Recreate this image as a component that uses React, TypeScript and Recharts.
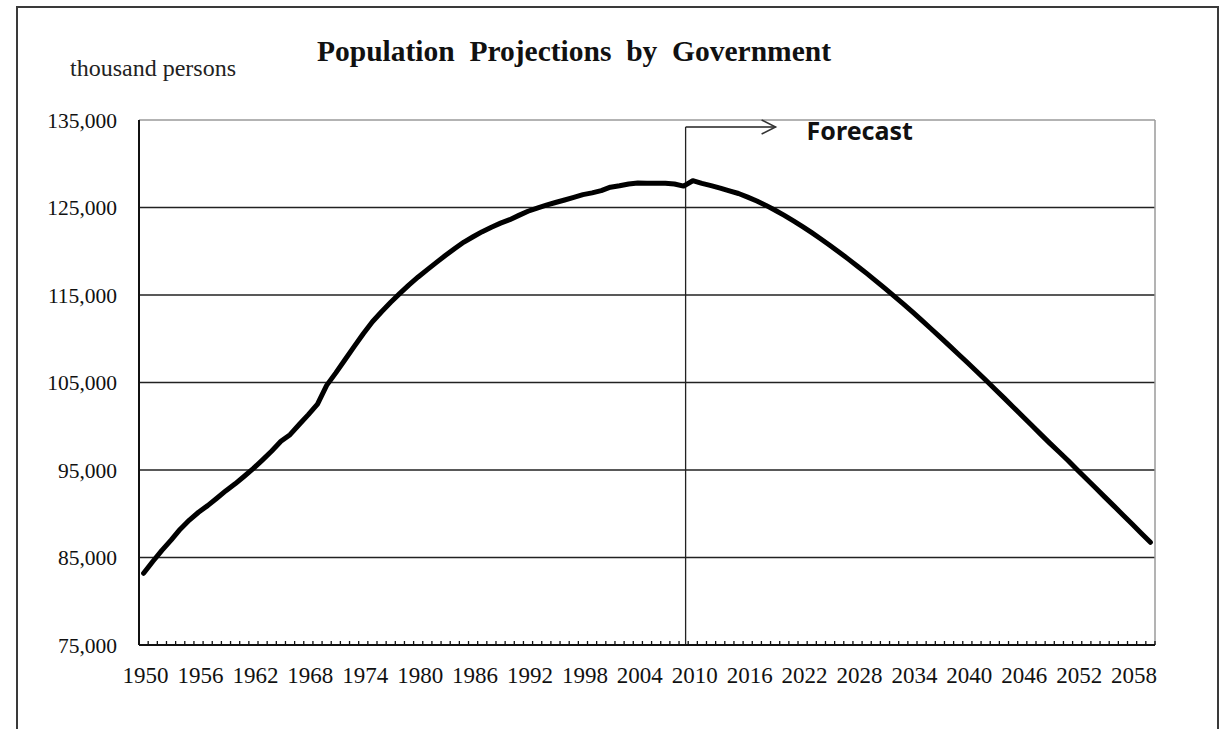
import { LineChart, Line, XAxis, YAxis, CartesianGrid, ReferenceLine } from 'recharts';

// Japan total population, thousand persons (estimates to 2009, projection from 2010)
const years = [
  1950, 1951, 1952, 1953, 1954, 1955, 1956, 1957, 1958, 1959,
  1960, 1961, 1962, 1963, 1964, 1965, 1966, 1967, 1968, 1969,
  1970, 1971, 1972, 1973, 1974, 1975, 1976, 1977, 1978, 1979,
  1980, 1981, 1982, 1983, 1984, 1985, 1986, 1987, 1988, 1989,
  1990, 1991, 1992, 1993, 1994, 1995, 1996, 1997, 1998, 1999,
  2000, 2001, 2002, 2003, 2004, 2005, 2006, 2007, 2008, 2009,
  2010, 2011, 2012, 2013, 2014, 2015, 2016, 2017, 2018, 2019,
  2020, 2021, 2022, 2023, 2024, 2025, 2026, 2027, 2028, 2029,
  2030, 2031, 2032, 2033, 2034, 2035, 2036, 2037, 2038, 2039,
  2040, 2041, 2042, 2043, 2044, 2045, 2046, 2047, 2048, 2049,
  2050, 2051, 2052, 2053, 2054, 2055, 2056, 2057, 2058, 2059,
  2060,
];

const population = [
  83200, 84540, 85810, 86980, 88240, 89280, 90170, 90930, 91770, 92640,
  93420, 94290, 95180, 96160, 97180, 98280, 99040, 100200, 101330, 102540,
  104670, 106100, 107600, 109100, 110570, 111940, 113090, 114170, 115190, 116160,
  117060, 117900, 118730, 119540, 120310, 121050, 121660, 122240, 122750, 123210,
  123610, 124100, 124570, 124940, 125270, 125570, 125860, 126160, 126470, 126670,
  126930, 127320, 127490, 127690, 127790, 127770, 127770, 127770, 127690, 127450,
  128060, 127750, 127500, 127220, 126900, 126600, 126190, 125740, 125240, 124690,
  124100, 123470, 122810, 122120, 121400, 120660, 119890, 119100, 118290, 117470,
  116620, 115750, 114870, 113980, 113060, 112120, 111170, 110210, 109240, 108260,
  107280, 106290, 105280, 104260, 103240, 102210, 101180, 100140, 99100, 98070,
  97080, 96090, 95030, 94000, 92970, 91930, 90900, 89860, 88820, 87780,
  86740,
];

const yTicks = [75000, 85000, 95000, 105000, 115000, 125000, 135000];
const gridValues = [85000, 95000, 105000, 115000, 125000];
const forecastStart = 2009;

const data = years.map((year, i) => ({ year, pop: population[i] }));

const SERIF = '"Liberation Serif", "Times New Roman", serif';
const INK = '#111';

function YearTick(props: any) {
  const { x, y, index, payload, width } = props;
  const step = (width || 1015) / years.length;
  const left = x - step / 2;
  const right = x + step / 2;
  return (
    <g>
      <line x1={left} y1={y} x2={left} y2={y - 4} stroke="#111" strokeWidth={1.3} />
      {index === years.length - 1 && (
        <line x1={right} y1={y} x2={right} y2={y - 4} stroke="#111" strokeWidth={1.3} />
      )}
      {index % 6 === 0 && (
        <text x={x + 2} y={y + 38} textAnchor="middle" fontFamily={SERIF} fontSize={23} fill={INK}>
          {payload.value}
        </text>
      )}
    </g>
  );
}

function ForecastMarker(props: any) {
  const { x1, y1, y2 } = props;
  const x = x1 + 2;
  const top = Math.min(y1, y2) + 7;
  const bottom = Math.max(y1, y2);
  const tip = x + 90;
  return (
    <g>
      <line x1={x} y1={top} x2={x} y2={bottom} stroke="#222" strokeWidth={1.3} />
      <line x1={x} y1={top} x2={tip} y2={top} stroke="#222" strokeWidth={1.5} />
      <polyline
        points={`${tip - 14},${top - 7} ${tip},${top} ${tip - 14},${top + 7}`}
        fill="none"
        stroke="#333"
        strokeWidth={1.5}
      />
      <text
        x={x + 121}
        y={top + 13}
        fontFamily='"Noto Sans", "DejaVu Sans", sans-serif'
        fontWeight="bold"
        fontSize={25}
        fill={INK}
      >
        Forecast
      </text>
    </g>
  );
}

export default function App() {
  return (
    <div style={{ position: 'absolute', left: 0, top: 0, width: 1223, height: 729, overflow: 'hidden', background: '#fff' }}>
      <div
        style={{
          position: 'absolute',
          left: 16,
          top: 6,
          width: 1199,
          height: 760,
          border: '2px solid #3a3a3a',
        }}
      />
      <svg width={1223} height={729} style={{ position: 'absolute', left: 0, top: 0 }}>
        <text
          x={574}
          y={61}
          textAnchor="middle"
          fontFamily={SERIF}
          fontWeight="bold"
          fontSize={29.5}
          fill={INK}
          style={{ whiteSpace: 'pre' }}
        >
          {'Population  Projections  by  Government'}
        </text>
        <text x={70} y={76} fontFamily={SERIF} fontSize={24} fill="#222">
          thousand persons
        </text>
      </svg>
      <div style={{ position: 'absolute', left: 0, top: 0 }}>
        <LineChart
          width={1223}
          height={729}
          data={data}
          margin={{ top: 120, right: 68, bottom: 44, left: 0 }}
        >
          <CartesianGrid
            vertical={false}
            horizontalValues={gridValues}
            stroke="#222"
            strokeWidth={1.6}
          />
          <CartesianGrid
            horizontalCoordinatesGenerator={({ offset }: any) => [offset.top]}
            verticalCoordinatesGenerator={({ offset }: any) => [offset.left + offset.width]}
            stroke="#9a9a9a"
            strokeWidth={1.5}
          />
          <XAxis
            dataKey="year"
            interval={0}
            height={40}
            padding={{ left: 4.6, right: 4.6 }}
            axisLine={{ stroke: '#111', strokeWidth: 2 }}
            tickLine={false}
            tickSize={0}
            tickMargin={0}
            tick={<YearTick />}
          />
          <YAxis
            width={139}
            domain={[75000, 135000]}
            ticks={yTicks}
            allowDataOverflow
            axisLine={{ stroke: '#111', strokeWidth: 2 }}
            tickLine={false}
            tickSize={0}
            tickMargin={22}
            tickFormatter={(v: number) => v.toLocaleString('en-US')}
            tick={{ fill: INK, fontSize: 21.5, fontFamily: SERIF }}
          />
          <ReferenceLine x={forecastStart} shape={<ForecastMarker />} />
          <Line
            type="linear"
            dataKey="pop"
            stroke="#000"
            strokeWidth={5}
            strokeLinejoin="round"
            strokeLinecap="round"
            dot={false}
            activeDot={false}
            isAnimationActive={false}
          />
        </LineChart>
      </div>
    </div>
  );
}
